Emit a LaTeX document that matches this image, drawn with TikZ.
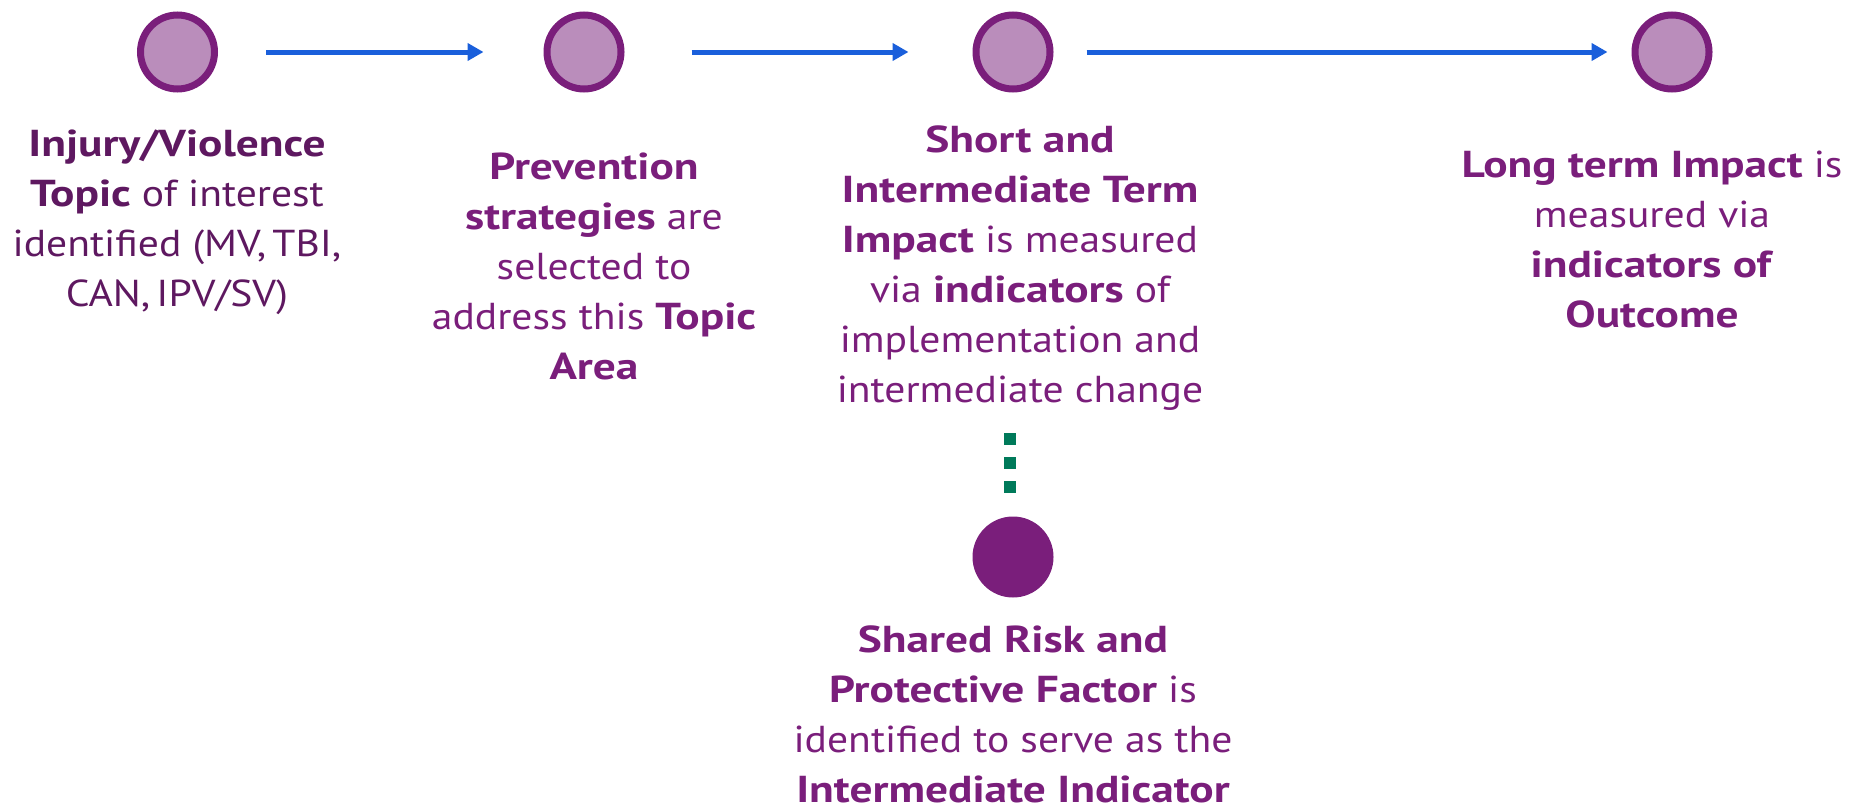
\documentclass[tikz,border=0pt]{standalone}
\usepackage{fontspec}
\setmainfont{PT Sans}[FakeStretch=1.11, BoldFeatures={FakeStretch=1.21}]
\usetikzlibrary{arrows.meta}
\definecolor{circfill}{HTML}{BA8DBB}
\definecolor{purp}{HTML}{7A1E7B}
\definecolor{darkpurp}{HTML}{5E1860}
\definecolor{arrblue}{HTML}{1A5FDB}
\definecolor{dotgreen}{HTML}{007A5A}
\tikzset{
  stage/.style={circle, draw=purp, fill=circfill, line width=7pt, minimum size=74pt, inner sep=0pt},
  shared/.style={circle, fill=purp, minimum size=81pt, inner sep=0pt},
  label/.style={align=center, text=purp, inner sep=0pt, anchor=north,
    font=\fontsize{37.5}{50}\selectfont},
  flow/.style={draw=arrblue, line width=5pt, -{Triangle[length=16pt,width=17pt]}},
  flowshadow/.style={draw=black!25, line width=5pt, opacity=0.5},
  dotline/.style={draw=dotgreen, line width=12pt, dash pattern=on 12pt off 12pt}
}
\begin{document}
\begin{tikzpicture}[x=1pt,y=-1pt]
\useasboundingbox (0,0) rectangle (1851,811);
\node[stage] (c1) at (177.5,52) {};
\node[stage] (c2) at (584,52) {};
\node[stage] (c3) at (1013,52) {};
\node[stage] (c4) at (1672,52) {};
\node[shared] (c5) at (1013,557) {};

\begin{scope}[yshift=-2pt, xshift=1pt]
\draw[flowshadow, shorten <=48pt, shorten >=76pt] (c1) -- (c2);
\draw[flowshadow, shorten <=67pt, shorten >=80pt] (c2) -- (c3);
\draw[flowshadow, shorten <=33pt, shorten >=40pt] (c3) -- (c4);
\end{scope}
\draw[flow, shorten <=48pt, shorten >=60pt] (c1) -- (c2);
\draw[flow, shorten <=67pt, shorten >=64pt] (c2) -- (c3);
\draw[flow, shorten <=33pt, shorten >=24pt] (c3) -- (c4);

\coordinate (d1) at (1010,433);
\coordinate (d2) at (1010,493);
\draw[dotline] (d1) -- (d2);

\node[label, text=darkpurp] (t1) at (177,130) {\textbf{Injury/Violence}\\ \textbf{Topic} of interest\\ identified (MV,\,TBI,\\ CAN,\,IPV/SV)};
\node[label] (t2) at (594,153) {\textbf{Prevention}\\ \textbf{strategies} are\\ selected to\\ address this \textbf{Topic}\\ \textbf{Area}};
\node[label] (t3) at (1020,126) {\textbf{Short and}\\ \textbf{Intermediate Term}\\ \textbf{Impact} is measured\\ via \textbf{indicators} of\\ implementation and\\ intermediate change};
\node[label] (t4) at (1652,151) {\textbf{Long term Impact} is\\ measured via\\ \textbf{indicators of}\\ \textbf{Outcome}};
\node[label] (t5) at (1013,626) {\textbf{Shared Risk and}\\ \textbf{Protective Factor} is\\ identified to serve as the\\ \textbf{Intermediate Indicator}};
\end{tikzpicture}
\end{document}
